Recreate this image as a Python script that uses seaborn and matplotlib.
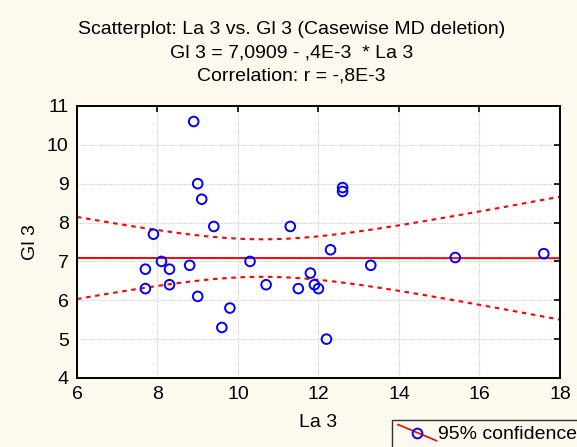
import numpy as np
import pandas as pd
import seaborn as sns
import matplotlib
matplotlib.use("Agg")
import matplotlib.pyplot as plt
from matplotlib.lines import Line2D
from matplotlib.legend_handler import HandlerBase

# data
la3 = [8.9, 9.0, 9.1, 9.4, 7.9, 11.3, 12.6, 12.6, 12.3, 8.1, 10.3, 7.7, 8.3, 8.8,
       13.3, 15.4, 17.6, 11.8, 7.7, 8.3, 10.7, 11.5, 11.9, 12.0, 9.0, 9.8, 9.6, 12.2]
gl3 = [10.6, 9.0, 8.6, 7.9, 7.7, 7.9, 8.9, 8.8, 7.3, 7.0, 7.0, 6.8, 6.8, 6.9,
       6.9, 7.1, 7.2, 6.7, 6.3, 6.4, 6.4, 6.3, 6.4, 6.3, 6.1, 5.8, 5.3, 5.0]
intercept = 7.0909
slope = -0.0004
t_crit = 2.0555  # t(0.975, df=26)

df = pd.DataFrame({"La 3": la3, "Gl 3": gl3})

sns.set_theme(style="white")
plt.rcParams["font.family"] = ["Liberation Sans", "DejaVu Sans"]
plt.rcParams["text.color"] = "black"
plt.rcParams["axes.labelcolor"] = "black"
plt.rcParams["xtick.color"] = "black"
plt.rcParams["ytick.color"] = "black"

bg = "#fdf9ef"
fig = plt.figure(figsize=(5.77, 4.47), dpi=100, facecolor=bg)
ax = fig.add_axes([0.1334, 0.1544, 0.837, 0.6085])
ax.set_facecolor("white")

# fitted line and 95% confidence band
x = np.asarray(la3)
y = np.asarray(gl3)
n = len(x)
resid = y - (intercept + slope * x)
s = np.sqrt(np.sum(resid ** 2) / (n - 2))
xbar = x.mean()
sxx = np.sum((x - xbar) ** 2)
xs = np.linspace(6, 18, 200)
fit = intercept + slope * xs
half = t_crit * s * np.sqrt(1 / n + (xs - xbar) ** 2 / sxx)

ax.plot(xs, fit, color="red", lw=1.4, zorder=2)
ax.plot(xs, fit + half, color="red", lw=1.5, ls=(0, (2.2, 2.2)), zorder=2)
ax.plot(xs, fit - half, color="red", lw=1.5, ls=(0, (2.2, 2.2)), zorder=2)

sns.scatterplot(data=df, x="La 3", y="Gl 3", ax=ax, marker="o", s=48,
                facecolor="none", edgecolor="blue", linewidth=1.4, zorder=3)

ax.set_xlim(6, 18)
ax.set_ylim(4, 11)
ax.set_xticks(range(6, 19, 2))
ax.set_yticks(range(4, 12))
ax.grid(True, color="#cccccc", ls=(0, (1, 1)), lw=0.8)
ax.tick_params(direction="in", length=4, width=1.2,
               top=True, right=True, labelsize=14, pad=6)
for sp in ax.spines.values():
    sp.set_color("black")
    sp.set_linewidth(1.4)

ax.set_xlabel("La 3", fontsize=14, labelpad=8)
ax.set_ylabel("Gl 3", fontsize=14, labelpad=6)

fig.text(0.505, 0.933, "Scatterplot: La 3 vs. Gl 3 (Casewise MD deletion)",
         ha="center", va="center", fontsize=14)
fig.text(0.505, 0.881, "Gl 3 = 7,0909 - ,4E-3  * La 3",
         ha="center", va="center", fontsize=14)
fig.text(0.505, 0.829, "Correlation: r = -,8E-3",
         ha="center", va="center", fontsize=14)


class DiagHandler(HandlerBase):
    def create_artists(self, legend, orig_handle, xdescent, ydescent,
                       width, height, fontsize, trans):
        line = Line2D([0, width], [height * 1.1, -height * 0.1],
                      color="red", lw=1.2, transform=trans)
        dot = Line2D([width / 2], [height / 2], marker="o", ms=7,
                     mfc="none", mec="blue", mew=1.4, ls="none", transform=trans)
        return [line, dot]


proxy = Line2D([], [])
leg = fig.legend([proxy], ["95% confidence"], handler_map={Line2D: DiagHandler()},
                 loc="upper left", bbox_to_anchor=(392 / 577, 1 - 420 / 447),
                 fontsize=14, frameon=True, fancybox=False, borderpad=0.3,
                 borderaxespad=0, handlelength=2.0, handletextpad=0.05)
leg.get_frame().set_edgecolor("black")
leg.get_frame().set_facecolor(bg)
leg.get_frame().set_linewidth(1.0)

fig.savefig("out.png", dpi=100, facecolor=bg)
